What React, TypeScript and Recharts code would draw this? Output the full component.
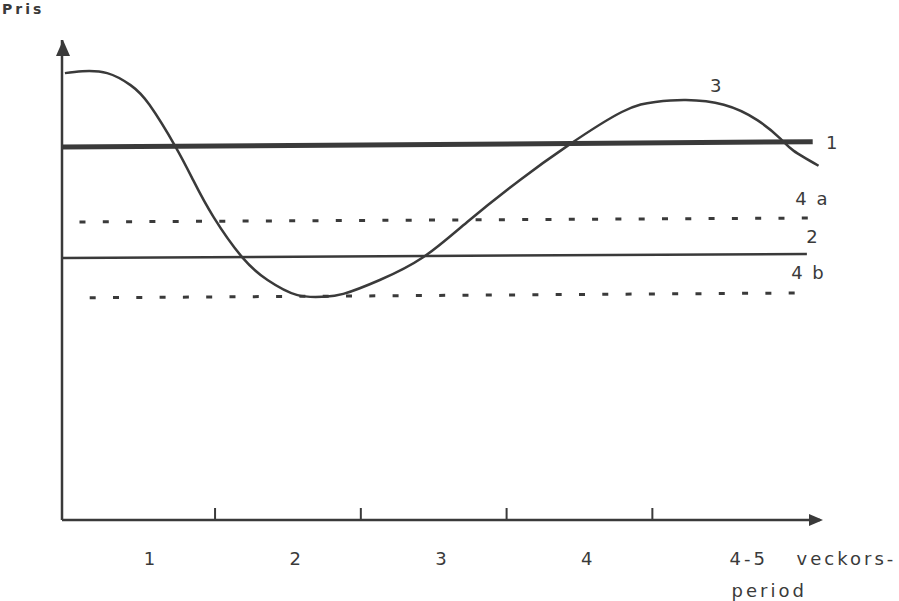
import { LineChart, Line, XAxis, YAxis, ReferenceDot } from 'recharts';

// price curve (3)
const CURVE_X = [-0.03, 0.09, 0.26, 0.42, 0.55, 0.73, 0.85, 0.99, 1.19, 1.36, 1.56, 1.74, 1.88, 2.13, 2.43, 2.73, 3.09, 3.42, 3.79, 4.02, 4.23, 4.49, 4.72, 4.88, 4.97, 5.14];
const CURVE_Y = [9.31, 9.35, 9.31, 9.06, 8.65, 7.77, 7.08, 6.31, 5.46, 5.0, 4.69, 4.65, 4.71, 5.0, 5.48, 6.21, 7.08, 7.8, 8.5, 8.71, 8.75, 8.65, 8.33, 7.94, 7.69, 7.38];

// straight levels: 1, 2, 4a, 4b (start and end)
const LINE1_X = [-0.05, 5.10];
const LINE1_Y = [7.77, 7.88];
const LINE2_X = [-0.05, 5.06];
const LINE2_Y = [5.46, 5.54];
const LINE4A_X = [0.07, 5.07];
const LINE4A_Y = [6.21, 6.29];
const LINE4B_X = [0.14, 5.03];
const LINE4B_Y = [4.63, 4.73];

const X_DOMAIN = [-0.05, 5.15];
const Y_DOMAIN = [0, 10];
const TICK_MARKS = [1, 2, 3, 4];
const LABEL_POS = [0.55, 1.55, 2.55, 3.55, 4.53];
const LABELS = ['1', '2', '3', '4', '4-5'];
const LAST_LABEL_REST = 'veckors-';
const LABEL_2ND_ROW = 'period';
const Y_TICKS = [3.12, 4.63, 5.46, 7.77];

const INK = '#3a3a3a';
const FONT = '"DejaVu Sans", "Liberation Sans", sans-serif';

const toRows = (xs: number[], ys: number[]) => xs.map((x, i) => ({ x, y: ys[i] }));
const last = (a: number[]) => a[a.length - 1];

function XTick(props: any) {
  const { x, y, payload } = props;
  const v = payload.value;
  if (TICK_MARKS.includes(v)) {
    return <line x1={x} x2={x} y1={y} y2={y - 12} stroke={INK} strokeWidth={2} />;
  }
  const i = LABEL_POS.indexOf(v);
  if (i < 0) return <g />;
  if (i === LABELS.length - 1) {
    return (
      <g fill={INK} fontFamily={FONT} fontSize={18} letterSpacing={3}>
        <text x={x} y={y + 45} textAnchor="start">{LABELS[i]}</text>
        <text x={x + 67} y={y + 45} textAnchor="start">{LAST_LABEL_REST}</text>
        <text x={x + 2} y={y + 77} textAnchor="start">{LABEL_2ND_ROW}</text>
      </g>
    );
  }
  return (
    <text x={x} y={y + 45} textAnchor="middle" fill={INK} fontFamily={FONT} fontSize={18}>
      {LABELS[i]}
    </text>
  );
}

const tag = (text: string, dx: number, dy: number) =>
  (p: any) => (
    <text x={p.cx + dx} y={p.cy + dy} textAnchor="middle" dominantBaseline="central"
      fill={INK} fontFamily={FONT} fontSize={18} letterSpacing={2}>{text}</text>
  );

export default function App() {
  return (
    <div style={{ position: 'absolute', left: 0, top: 0, width: 899, height: 601, background: '#fff' }}>
      <div style={{
        position: 'absolute', left: 2, top: 1, fontFamily: FONT, fontSize: 14,
        fontWeight: 700, color: INK, letterSpacing: 3,
      }}>Pris</div>
      <LineChart width={899} height={601} margin={{ top: 40, right: 79, bottom: 51, left: 52 }}>
        <XAxis
          type="number" dataKey="x" domain={X_DOMAIN} allowDataOverflow
          ticks={LABEL_POS.concat(TICK_MARKS).sort((a, b) => a - b)} interval={0}
          tickSize={0} tickMargin={0} tick={<XTick />} height={30}
          axisLine={{ stroke: INK, strokeWidth: 2.5 }}
        />
        <YAxis
          type="number" dataKey="y" domain={Y_DOMAIN} allowDataOverflow width={10}
          ticks={Y_TICKS} interval={0} tick={false} tickSize={4}
          tickLine={{ stroke: INK, strokeWidth: 2.5 }}
          axisLine={{ stroke: INK, strokeWidth: 2.5 }}
        />
        <Line data={toRows(LINE1_X, LINE1_Y)} dataKey="y" type="linear" stroke={INK}
          strokeWidth={5} dot={false} isAnimationActive={false} />
        <Line data={toRows(LINE2_X, LINE2_Y)} dataKey="y" type="linear" stroke={INK}
          strokeWidth={2.5} dot={false} isAnimationActive={false} />
        <Line data={toRows(LINE4A_X, LINE4A_Y)} dataKey="y" type="linear" stroke={INK}
          strokeWidth={3} strokeDasharray="6 17.3" dot={false} isAnimationActive={false} />
        <Line data={toRows(LINE4B_X, LINE4B_Y)} dataKey="y" type="linear" stroke={INK}
          strokeWidth={3} strokeDasharray="6 17.3" dot={false} isAnimationActive={false} />
        <Line data={toRows(CURVE_X, CURVE_Y)} dataKey="y" type="natural" stroke={INK}
          strokeWidth={2.5} dot={false} isAnimationActive={false} />

        {/* axis arrowheads */}
        <ReferenceDot x={X_DOMAIN[1]} y={Y_DOMAIN[0]} r={0} ifOverflow="visible"
          shape={(p: any) => (
            <path d={`M${p.cx + 3},${p.cy} L${p.cx - 11},${p.cy - 6} L${p.cx - 11},${p.cy + 6} Z`} fill={INK} />
          )} />
        <ReferenceDot x={X_DOMAIN[0]} y={Y_DOMAIN[1]} r={0} ifOverflow="visible"
          shape={(p: any) => (
            <path d={`M${p.cx + 1},${p.cy} L${p.cx - 6},${p.cy + 16} L${p.cx + 8},${p.cy + 16} Z`} fill={INK} />
          )} />

        {/* series tags */}
        <ReferenceDot x={CURVE_X[21]} y={CURVE_Y[21]} r={0} ifOverflow="visible" shape={tag('3', -7, -19)} />
        <ReferenceDot x={last(LINE1_X)} y={last(LINE1_Y)} r={0} ifOverflow="visible" shape={tag('1', 20, 1)} />
        <ReferenceDot x={last(LINE4A_X)} y={last(LINE4A_Y)} r={0} ifOverflow="visible" shape={tag('4 a', 4, -20)} />
        <ReferenceDot x={last(LINE2_X)} y={last(LINE2_Y)} r={0} ifOverflow="visible" shape={tag('2', 6, -18)} />
        <ReferenceDot x={last(LINE4B_X)} y={last(LINE4B_Y)} r={0} ifOverflow="visible" shape={tag('4 b', 6, -20)} />
      </LineChart>
    </div>
  );
}
